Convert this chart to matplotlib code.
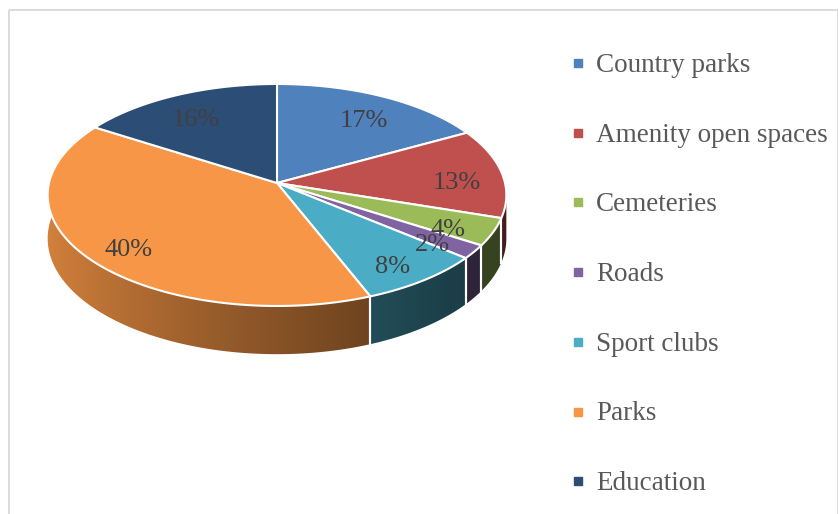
import numpy as np
import matplotlib
matplotlib.use('Agg')
import matplotlib.pyplot as plt
from matplotlib.patches import Polygon, Rectangle
from matplotlib.colors import to_rgb

# Data
categories = ['Country parks', 'Amenity open spaces', 'Cemeteries', 'Roads',
              'Sport clubs', 'Parks', 'Education']
shares = [17, 13, 4, 2, 8, 40, 16]
colors = ['#4F81BD', '#C0504D', '#9BBB59', '#8064A2', '#4BACC6', '#F79646', '#2C4D75']

# 3D pie geometry (pixel space)
cx, cy = 277, 183
rx, ry = 228, 109.7
k = 0.108          # perspective
depth = 43


def project(theta, r=1.0):
    s = -np.sin(theta) * r
    d = 1 - k * s
    return cx + rx * r * np.cos(theta) / d, cy + ry * s / d


def thickness(theta):
    s = -np.sin(theta)
    return depth / (1 - k * s)


def shade(x):
    u = np.clip((x - 47) / 321.0, 0, None)
    return np.clip(0.86 - 0.41 * u ** 0.8, 0.36, 0.9)


fig = plt.figure(figsize=(8.38, 5.14), dpi=100)
ax = fig.add_axes([0, 0, 1, 1])
ax.set_xlim(0, 838)
ax.set_ylim(514, 0)
ax.axis('off')

# chart border
ax.add_patch(Rectangle((8.5, 9.5), 829, 520, fill=False, ec='#D9D9D9', lw=1.3))

total = float(sum(shares))
starts = []
a = 90.0
for v in shares:
    starts.append((a, a - 360.0 * v / total))
    a -= 360.0 * v / total

# visible front wall range
tang = np.degrees(np.arcsin(k))
vis_hi, vis_lo = -tang, -180 - tang

xs = np.arange(0, 838)
for (a1, a2), col in zip(starts, colors):
    hi, lo = min(a1, vis_hi), max(a2, vis_lo)
    if hi <= lo:
        continue
    th = np.radians(np.linspace(hi, lo, 80))
    px, py = project(th)
    h = thickness(th)
    pts = np.vstack([np.column_stack([px, py]), np.column_stack([px, py + h])[::-1]])
    poly = Polygon(pts, closed=True, fc='none', ec='none')
    ax.add_patch(poly)
    base = np.array(to_rgb(col))
    grad = base[None, :] * shade(xs)[:, None]
    img = np.repeat(grad[None, :, :], 2, axis=0)
    im = ax.imshow(img, extent=(0, 838, 514, 0), aspect='auto', interpolation='bilinear', zorder=1)
    im.set_clip_path(poly)

# white lines between wall pieces
for (a1, a2) in starts:
    for ang in (a1, a2):
        if vis_lo < ang < vis_hi:
            t = np.radians(ang)
            x0, y0 = project(t)
            ax.plot([x0, x0], [y0, y0 + thickness(t)], color='white', lw=1.5, zorder=2)

# top faces
for (a1, a2), col in zip(starts, colors):
    th = np.radians(np.linspace(a1, a2, 120))
    px, py = project(th)
    pts = np.vstack([[cx, cy], np.column_stack([px, py])])
    ax.add_patch(Polygon(pts, closed=True, fc=col, ec='white', lw=1.5, joinstyle='round', zorder=3))

# data labels
for (a1, a2), v in zip(starts, shares):
    t = np.radians((a1 + a2) / 2)
    lx, ly = project(t, 0.8)
    ax.text(lx, ly + 14, f'{v}%', ha='center', va='baseline', fontsize=19,
            color='#404040', family='Liberation Serif', zorder=4)

# legend
for i, (cat, col) in enumerate(zip(categories, colors)):
    y = 63 + i * 69.7
    ax.plot(578, y, marker='s', ms=5.5, color=col, mec=col, zorder=4)
    ax.text(596, y + 9, cat, ha='left', va='baseline', fontsize=19.5,
            color='#595959', family='Liberation Serif', zorder=4)

fig.savefig('out.png', dpi=100)
